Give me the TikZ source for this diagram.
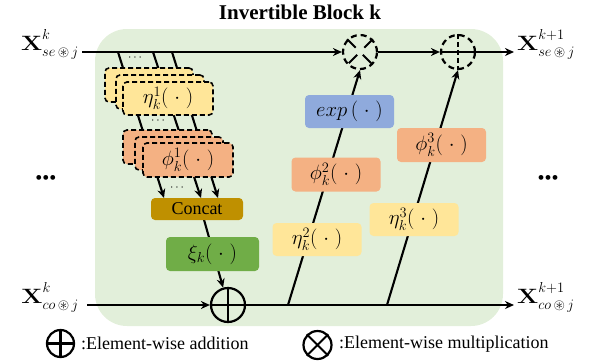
\documentclass[tikz,border=0pt]{standalone}
\usepackage{amsmath,amssymb}
\usepackage[no-math]{fontspec}
\setmainfont{Liberation Serif}
\usetikzlibrary{arrows.meta,calc}
\definecolor{bggreen}{HTML}{E2EFDA}
\definecolor{etayel}{HTML}{FFE699}
\definecolor{phiorg}{HTML}{F4B183}
\definecolor{expblue}{HTML}{8FAADC}
\definecolor{concatc}{HTML}{BF9000}
\definecolor{xigreen}{HTML}{70AD47}
\pgfdeclarelayer{bg}
\pgfdeclarelayer{lines}
\pgfsetlayers{bg,lines,main}
\newcommand{\BX}{\scalebox{1.2}[1]{$\mathbf{X}$}}
\newcommand{\Sup}[1]{\raisebox{2pt}{$\scriptstyle #1$}}
\newcommand{\Sub}[1]{\raisebox{-1.5pt}{$\scriptstyle #1$}}
\begin{document}
\begin{tikzpicture}[x=1pt,y=-1pt,
  mathbox/.style={rounded corners=4pt, minimum width=89pt, minimum height=33pt, inner sep=0pt, font=\fontsize{21}{24}\selectfont},
  stackbox/.style={mathbox, draw=black, line width=1.6pt, dash pattern=on 5pt off 3pt},
  ln/.style={line width=2.1pt},
  arr/.style={ln, -{Stealth[length=9pt,width=8pt]}},
  opc/.style={circle, draw=black, line width=2.2pt, minimum size=34pt, inner sep=0pt},
  dshc/.style={dash pattern=on 6pt off 4pt},
  dsh/.style={dash pattern=on 5pt off 3pt},
  lbl/.style={font=\fontsize{21}{26}\selectfont, inner sep=0pt},
  legtxt/.style={font=\fontsize{18}{21}\selectfont, inner sep=0pt, anchor=west},
  smalldots/.style={font=\fontsize{13}{15}\selectfont, inner sep=0pt},
  bigdots/.style={font=\fontsize{20}{23}\selectfont, inner sep=0pt}
]
\useasboundingbox (0,0) rectangle (595,360);
\begin{pgfonlayer}{bg}
  \fill[bggreen, rounded corners=32pt] (95,29) rectangle (503,326);
\end{pgfonlayer}

\node[font=\fontsize{21}{24}\selectfont\bfseries] (title) at (300,12) {Invertible Block k};

% outer labels
\node[lbl, anchor=base east] (xsein) at (79,50) {$\BX^{\Sup{k}}_{\Sub{se\,\circledast\,j}}$};
\node[lbl, anchor=base east] (xcoin) at (79,303) {$\BX^{\Sup{k}}_{\Sub{co\,\circledast\,j}}$};
\node[lbl, anchor=base west] (xseout) at (517,50) {$\BX^{\Sup{k+1}}_{\Sub{se\,\circledast\,j}}$};
\node[lbl, anchor=base west] (xcoout) at (517,303) {$\BX^{\Sup{k+1}}_{\Sub{co\,\circledast\,j}}$};

% operators
\node[opc, dshc] (mul) at (360,52) {};
\node[opc, dshc] (addt) at (458,52) {};
\node[opc] (addb) at (228,305) {};
\draw[ln, dash pattern=on 12pt off 10pt] (mul.north west) -- (mul.south east) (mul.north east) -- (mul.south west);
\draw[ln, dsh] (addt.north) -- (addt.south);
\draw[ln] (addb.north) -- (addb.south);

\coordinate (tin) at (82,52);
\coordinate (tout) at (514,52);
\coordinate (bin) at (87,305);
\coordinate (bout) at (514,305);
\coordinate (b1) at (288,305);
\coordinate (b2) at (387,305);
\coordinate (t1) at (118,52);
\coordinate (t2) at (153,52);
\coordinate (t3) at (172,52);
\coordinate (c1) at (164,198);
\coordinate (c2) at (201,198);
\coordinate (c3) at (218,198);

% boxes on the right
\node[mathbox, fill=expblue] (exp) at (349.5,111.5) {$exp\,(\;\cdot\;)$};
\node[mathbox, fill=phiorg, minimum height=34pt] (phi3) at (441.5,145) {$\phi_k^3(\;\cdot\;)$};
\node[mathbox, fill=phiorg, minimum height=34pt] (phi2) at (336,174.5) {$\phi_k^2(\;\cdot\;)$};
\node[mathbox, fill=etayel] (eta3) at (414,219.5) {$\eta_k^3(\;\cdot\;)$};
\node[mathbox, fill=etayel] (eta2) at (317,239.5) {$\eta_k^2(\;\cdot\;)$};
\node[mathbox, fill=concatc, minimum width=92pt, minimum height=22pt, font=\fontsize{18}{21}\selectfont] (concat) at (197,209) {Concat};
\node[mathbox, fill=xigreen, minimum width=93pt, minimum height=34pt] (xi) at (212.5,254) {$\xi_k(\;\cdot\;)$};

% stacked boxes
\node[stackbox, fill=etayel, minimum width=88pt, minimum height=34pt] (etaA) at (149,85) {};
\node[stackbox, fill=etayel, minimum width=88pt, minimum height=34pt] (etaB) at (160,92) {};
\node[stackbox, fill=etayel, minimum width=90pt, minimum height=33pt] (eta1) at (168,98.5) {$\eta_k^1(\;\cdot\;)$};
\node[stackbox, fill=phiorg, minimum width=89pt, minimum height=34pt] (phiA) at (167.5,147) {};
\node[stackbox, fill=phiorg, minimum width=88pt, minimum height=33pt] (phiB) at (179,153.5) {};
\node[stackbox, fill=phiorg, minimum width=90pt, minimum height=34pt] (phi1) at (188,160) {$\phi_k^1(\;\cdot\;)$};

% dots
\node[smalldots] (sd1) at (136,58) {$\cdots$};
\node[smalldots] (sd2) at (159,121) {$\cdots$};
\node[smalldots] (sd3) at (178,188) {$\cdots$};
\node[bigdots] (ldots) at (46,180) {•••};
\node[bigdots] (rdots) at (548,180) {•••};

% connectors
\begin{pgfonlayer}{lines}
  \draw[arr] (tin) -- (mul.west);
  \draw[arr] (mul.east) -- (addt.west);
  \draw[arr] (addt.west) -- (tout);
  \draw[arr] (bin) -- (addb.west);
  \draw[arr] (addb.west) -- (bout);
  \draw[arr] (b1) -- (mul.south);
  \draw[arr] (b2) -- (addt.south);
  \draw[arr] (t1) -- (c1);
  \draw[arr] (t2) -- (c2);
  \draw[arr] (t3) -- (c3);
  \draw[arr] ([xshift=4pt]concat.center) -- (addb);
\end{pgfonlayer}

% legend
\node[opc, minimum size=27pt] (ladd) at (60.5,343.5) {};
\draw[ln] (ladd.north) -- (ladd.south) (ladd.west) -- (ladd.east);
\node[legtxt] (laddtxt) at (81,343) {:Element-wise addition};
\node[opc, minimum size=28pt] (lmul) at (317.5,345) {};
\draw[ln] (lmul.north west) -- (lmul.south east) (lmul.north east) -- (lmul.south west);
\node[legtxt] (lmultxt) at (339,344) {:Element-wise multiplication};
\end{tikzpicture}
\end{document}
